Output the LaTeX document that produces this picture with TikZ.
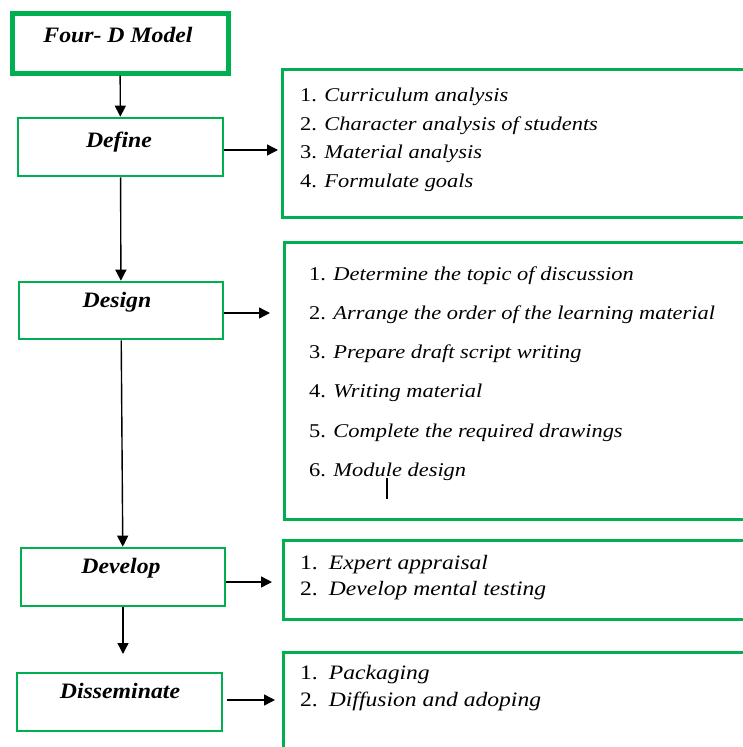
\documentclass[tikz,border=0pt]{standalone}
\usepackage{fontspec}
\setmainfont{Liberation Serif}
\newfontfamily\listfont[FakeStretch=1.15]{Liberation Serif}
\newfontfamily\titlefont[FakeStretch=1.08]{Liberation Serif}
\usetikzlibrary{arrows.meta}
\definecolor{bgreen}{RGB}{0,176,80}
\tikzset{
  stagebox/.style={draw=bgreen, line width=2.6pt, inner sep=0pt},
  titletext/.style={font=\titlefont\fontsize{22}{26}\selectfont\bfseries\itshape, anchor=base, inner sep=0pt},
  itemtext/.style={font=\listfont\fontsize{19.5}{23}\selectfont, anchor=base west, inner sep=0pt},
  itemtextb/.style={font=\listfont\fontsize{20.5}{24}\selectfont, anchor=base west, inner sep=0pt},
  listbox/.style={draw=bgreen, line width=2.6pt, anchor=north west, inner sep=0pt},
  arr/.style={line width=1.4pt, -{Triangle[length=11pt,width=11pt]}},
}
\begin{document}
\begin{tikzpicture}[x=1pt,y=-1pt]
\useasboundingbox (0,0) rectangle (742,747);
% stage boxes
\node[stagebox, line width=5pt, minimum width=216pt, minimum height=60pt] (fourd) at (120,43) {};
\node[stagebox, minimum width=205pt, minimum height=58pt] (define) at (120.5,147) {};
\node[stagebox, minimum width=204pt, minimum height=57pt] (design) at (121,310.5) {};
\node[stagebox, minimum width=204pt, minimum height=58pt] (develop) at (123,577) {};
\node[stagebox, minimum width=205pt, minimum height=58pt] (dissem) at (119.5,702) {};
% titles
\node[titletext] (fourdt) at (118,42) {Four- D Model};
\node[titletext] (definet) at (119,147) {Define};
\node[titletext] (designt) at (117,307) {Design};
\node[titletext] (developt) at (121,573) {Develop};
\node[titletext] (dissemt) at (120,698) {Disseminate};
% list boxes
\node[listbox, minimum width=467pt, minimum height=148pt] (r1) at (281,68) {};
\node[listbox, minimum width=465pt, minimum height=277pt] (r2) at (283,241) {};
\node[listbox, minimum width=466pt, minimum height=79pt] (r3) at (282,539) {};
\node[listbox, minimum width=466pt, minimum height=120pt] (r4) at (282,651) {};
% list items
\node[itemtext] (a1) at (300,101) {1. \textit{Curriculum analysis}};
\node[itemtext] (a2) at (300,130) {2. \textit{Character analysis of students}};
\node[itemtext] (a3) at (300,158) {3. \textit{Material analysis}};
\node[itemtext] (a4) at (300,187) {4. \textit{Formulate goals}};
\node[itemtext] (b1) at (309,280) {1. \textit{Determine the topic of discussion}};
\node[itemtext] (b2) at (309,319) {2. \textit{Arrange the order of the learning material}};
\node[itemtext] (b3) at (309,358) {3. \textit{Prepare draft script writing}};
\node[itemtext] (b4) at (309,397) {4. \textit{Writing material}};
\node[itemtext] (b5) at (309,437) {5. \textit{Complete the required drawings}};
\node[itemtext] (b6) at (309,476) {6. \textit{Module design}};
\node[itemtextb] (c1) at (300,569) {1.\hspace{11pt}\textit{Expert appraisal}};
\node[itemtextb] (c2) at (300,595) {2.\hspace{11pt}\textit{Develop mental testing}};
\node[itemtextb] (d1) at (300,679) {1.\hspace{11pt}\textit{Packaging}};
\node[itemtextb] (d2) at (300,706) {2.\hspace{11pt}\textit{Diffusion and adoping}};
% stray mark
\coordinate (m1) at (387,478);
\coordinate (m2) at (387,499);
\draw[line width=1.1pt] (m1) -- (m2);
% vertical connectors
\coordinate (dissin) at (123,654);
\draw[arr] (fourd) -- (define);
\draw[arr] (define) -- (design);
\draw[arr] (design) -- (develop);
\draw[arr] (develop) -- (dissin);
% horizontal connectors
\draw[arr, shorten >=3pt] ([yshift=-3pt]define.east) -- ([yshift=-3pt]define.east -| r1.west);
\draw[arr, shorten >=13pt] ([yshift=-2.5pt]design.east) -- ([yshift=-2.5pt]design.east -| r2.west);
\draw[arr, shorten >=10pt] ([yshift=-5pt]develop.east) -- ([yshift=-5pt]develop.east -| r3.west);
\draw[arr, shorten <=4pt, shorten >=7pt] ([yshift=2pt]dissem.east) -- ([yshift=2pt]dissem.east -| r4.west);
\end{tikzpicture}
\end{document}
